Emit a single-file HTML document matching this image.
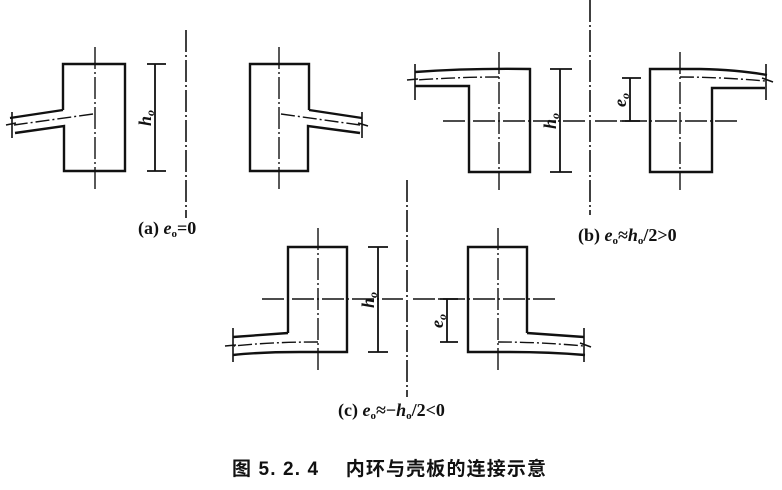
<!DOCTYPE html>
<html><head><meta charset="utf-8"><style>
html,body{margin:0;padding:0;background:#fff;}
svg{display:block;}
.t{font-family:"Liberation Serif",serif;font-size:18px;font-weight:bold;fill:#111;}
.i{font-style:italic;}
.cap{font-family:"Liberation Sans","Noto Sans CJK SC",sans-serif;font-size:19px;font-weight:bold;fill:#111;}
</style></head><body>
<svg width="782" height="490" viewBox="0 0 782 490" xmlns="http://www.w3.org/2000/svg">
<g fill="none" stroke="#111" stroke-width="2.4">
<path d="M63,110 V64 H125 V171 H64 V126 L15,133"/>
<path d="M63,110 L10,118"/>
<path d="M93,114 L14,125" stroke-width="1.4" stroke-dasharray="14 3 2 3"/>
<path d="M12,112 L12,138 M6,125 L16,123" stroke-width="1.6"/>
<path d="M95,47 V190" stroke-width="1.4" stroke-dasharray="22 3 2 3"/>
<path d="M155,64 V171 M147,64 H166 M147,171 H166" stroke-width="1.8"/>
<path d="M186,30 V218" stroke-width="1.6" stroke-dasharray="22 3 2 3"/>
<path d="M309,110 V64 H250 V171 H308 V126 L360,133"/>
<path d="M309,110 L362,118"/>
<path d="M281,114 L360,125" stroke-width="1.4" stroke-dasharray="14 3 2 3"/>
<path d="M362,112 L362,138 M358,123 L368,126" stroke-width="1.6"/>
<path d="M279,47 V190" stroke-width="1.4" stroke-dasharray="22 3 2 3"/>

<path d="M415,72 Q470,68 530,69 V172 H469 V86 H415"/>
<path d="M499,77 Q460,77 416,80" stroke-width="1.4" stroke-dasharray="14 3 2 3"/>
<path d="M415,64 V100 M407,80 L418,79" stroke-width="1.6"/>
<path d="M499,52 V190" stroke-width="1.4" stroke-dasharray="22 3 2 3"/>
<path d="M443,121 H588" stroke-width="1.4" stroke-dasharray="22 3 2 3"/>
<path d="M560,69 V172 M550,69 H572 M550,172 H572" stroke-width="1.8"/>
<path d="M590,0 V215" stroke-width="1.6" stroke-dasharray="22 3 2 3"/>
<path d="M630,78 V121 M622,78 H641 M622,121 H640" stroke-width="1.8"/>
<path d="M595,121 H737" stroke-width="1.4" stroke-dasharray="22 3 2 3"/>
<path d="M700,69 H650 V172 H712 V88 H765 M700,69 Q740,70 767,75"/>
<path d="M680,77 Q720,77 765,81" stroke-width="1.4" stroke-dasharray="14 3 2 3"/>
<path d="M766,64 V100 M762,78 L773,82" stroke-width="1.6"/>
<path d="M680,52 V190" stroke-width="1.4" stroke-dasharray="22 3 2 3"/>

<path d="M288,333 V247 H347 V352 H300 Q260,352 233,355 M288,333 L233,337"/>
<path d="M318,342 Q270,342 234,346" stroke-width="1.4" stroke-dasharray="14 3 2 3"/>
<path d="M233,328 V362 M225,346 L236,345" stroke-width="1.6"/>
<path d="M318,228 V370" stroke-width="1.4" stroke-dasharray="22 3 2 3"/>
<path d="M262,299 H403" stroke-width="1.4" stroke-dasharray="22 3 2 3"/>
<path d="M378,247 V352 M368,247 H388 M368,352 H388" stroke-width="1.8"/>
<path d="M407,180 V397" stroke-width="1.6" stroke-dasharray="22 3 2 3"/>
<path d="M447,299 V342 M440,299 H458 M440,342 H458" stroke-width="1.8"/>
<path d="M413,299 H555" stroke-width="1.4" stroke-dasharray="22 3 2 3"/>
<path d="M527,333 V247 H468 V352 H510 Q550,352 585,355 M527,333 L584,337"/>
<path d="M498,342 Q540,342 584,346" stroke-width="1.4" stroke-dasharray="14 3 2 3"/>
<path d="M584,328 V362 M580,343 L591,347" stroke-width="1.6"/>
<path d="M498,228 V370" stroke-width="1.4" stroke-dasharray="22 3 2 3"/>
</g>
<text class="t i" font-size="20" transform="translate(151,118) rotate(-90)" text-anchor="middle">h<tspan font-size="12" dy="3">o</tspan></text>
<text class="t i" font-size="20" transform="translate(556,121) rotate(-90)" text-anchor="middle">h<tspan font-size="12" dy="3">o</tspan></text>
<text class="t i" font-size="20" transform="translate(626,100) rotate(-90)" text-anchor="middle">e<tspan font-size="12" dy="3">o</tspan></text>
<text class="t i" font-size="20" transform="translate(374,300) rotate(-90)" text-anchor="middle">h<tspan font-size="12" dy="3">o</tspan></text>
<text class="t i" font-size="20" transform="translate(443,321) rotate(-90)" text-anchor="middle">e<tspan font-size="12" dy="3">o</tspan></text>
<text class="t" x="138" y="234">(a) <tspan class="i">e</tspan><tspan font-size="11" dy="3">o</tspan><tspan dy="-3">=0</tspan></text>
<text class="t" x="578" y="241">(b) <tspan class="i">e</tspan><tspan font-size="11" dy="3">o</tspan><tspan dy="-3">≈</tspan><tspan class="i">h</tspan><tspan font-size="11" dy="3">o</tspan><tspan dy="-3">/2&gt;0</tspan></text>
<text class="t" x="338" y="416">(c) <tspan class="i">e</tspan><tspan font-size="11" dy="3">o</tspan><tspan dy="-3">≈−</tspan><tspan class="i">h</tspan><tspan font-size="11" dy="3">o</tspan><tspan dy="-3">/2&lt;0</tspan></text>
<text class="cap" x="232" y="475" textLength="314">图 5. 2. 4　 内环与壳板的连接示意</text>
</svg>
</body></html>
